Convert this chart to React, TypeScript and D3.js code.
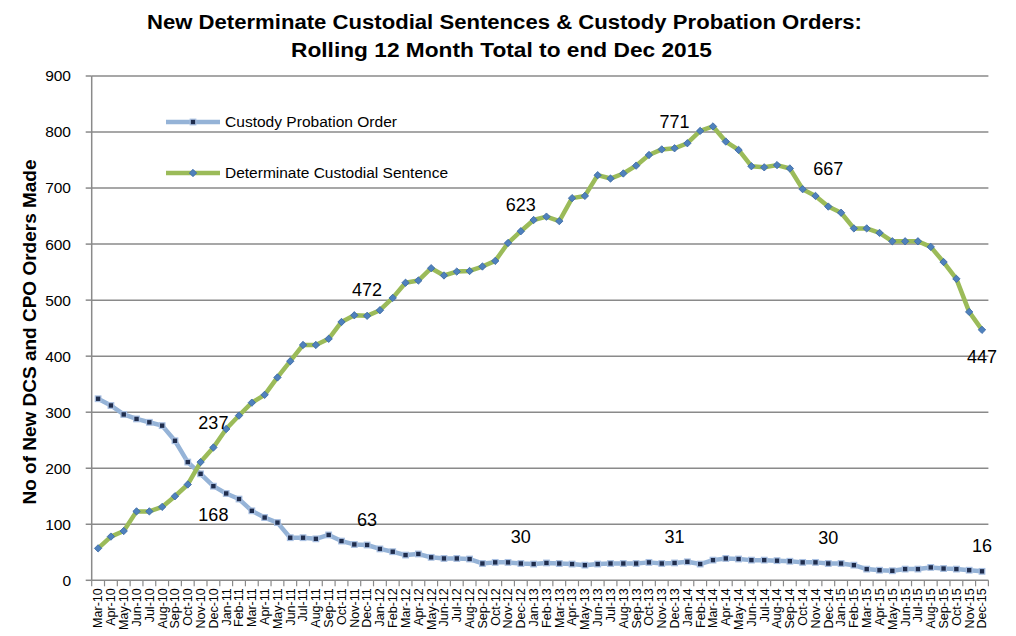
import React from "react";
import * as d3 from "d3";

const months: string[] = [
  "Mar-10","Apr-10","May-10","Jun-10","Jul-10","Aug-10","Sep-10","Oct-10","Nov-10","Dec-10",
  "Jan-11","Feb-11","Mar-11","Apr-11","May-11","Jun-11","Jul-11","Aug-11","Sep-11","Oct-11","Nov-11","Dec-11",
  "Jan-12","Feb-12","Mar-12","Apr-12","May-12","Jun-12","Jul-12","Aug-12","Sep-12","Oct-12","Nov-12","Dec-12",
  "Jan-13","Feb-13","Mar-13","Apr-13","May-13","Jun-13","Jul-13","Aug-13","Sep-13","Oct-13","Nov-13","Dec-13",
  "Jan-14","Feb-14","Mar-14","Apr-14","May-14","Jun-14","Jul-14","Aug-14","Sep-14","Oct-14","Nov-14","Dec-14",
  "Jan-15","Feb-15","Mar-15","Apr-15","May-15","Jun-15","Jul-15","Aug-15","Sep-15","Oct-15","Nov-15","Dec-15",
];

const cpoValues: number[] = [
  324,312,296,288,282,276,249,211,190,168,
  155,145,124,112,103,76,76,74,81,70,64,63,
  56,51,45,47,41,39,39,38,30,32,32,30,
  29,31,30,29,27,29,30,30,30,32,30,31,
  33,29,36,39,38,36,36,35,34,32,32,30,
  30,27,20,18,17,20,20,23,21,20,18,16,
];

const dcsValues: number[] = [
  57,78,88,123,123,131,150,171,211,237,
  270,294,317,331,362,391,420,420,431,461,473,472,
  482,504,531,535,557,544,551,552,560,570,602,623,
  643,649,641,682,686,723,717,726,740,759,769,771,
  780,802,810,783,768,739,737,741,735,698,686,667,
  656,628,628,620,605,605,605,595,568,538,479,447,
];

const yTicks: number[] = [0, 100, 200, 300, 400, 500, 600, 700, 800, 900];

const cpoLabelMonths: string[] = ["Dec-10", "Dec-11", "Dec-12", "Dec-13", "Dec-14", "Dec-15"];
const cpoLabelDy: number[] = [29, -25, -27, -26, -26, -26];
const dcsLabelMonths: string[] = ["Dec-10", "Dec-11", "Dec-12", "Dec-13", "Dec-14", "Dec-15"];
const dcsLabelDy: number[] = [-25, -26, -27, -27, -38, 27];

const FONT = "'Liberation Sans', Arial, sans-serif";

export default function App() {
  const W = 1016, H = 636;
  const left = 91.7, right = 988.4, top = 76, bottom = 580.3;
  const x = d3.scaleLinear().domain([0, months.length]).range([left, right]);
  const cx = (i: number) => x(i + 0.5);
  const y = d3.scaleLinear().domain([0, 900]).range([bottom, top]);

  const line = d3.line<number>().x((_, i) => cx(i)).y((d) => y(d));
  const cpoPath = line(cpoValues) || "";
  const dcsPath = line(dcsValues) || "";

  const grid = "#8a8a8a";
  const cpoColor = "#95b3d7";
  const dcsColor = "#9bbb59";

  const Diamond = ({ px, py }: { px: number; py: number }) => (
    <rect x={px - 2.6} y={py - 2.6} width={5.2} height={5.2} transform={`rotate(45,${px},${py})`} fill="#4f81bd" stroke="#3c6aa6" strokeWidth={0.8} />
  );
  const Square = ({ px, py }: { px: number; py: number }) => (
    <rect x={px - 2.8} y={py - 2.8} width={5.6} height={5.6} fill="#1f2d4d" stroke="#a9c0e2" strokeWidth={1.2} />
  );

  return (
    <svg width={W} height={H} style={{ position: "absolute", left: 0, top: 0, background: "#fff" }}>
      {/* title */}
      <text x={504.5} y={29} textAnchor="middle" fontFamily={FONT} fontWeight="bold" fontSize={19.5} textLength={715} lengthAdjust="spacingAndGlyphs" fill="#000">
        New Determinate Custodial Sentences &amp; Custody Probation Orders:
      </text>
      <text x={501.5} y={57} textAnchor="middle" fontFamily={FONT} fontWeight="bold" fontSize={19.5} textLength={421} lengthAdjust="spacingAndGlyphs" fill="#000">
        Rolling 12 Month Total to end Dec 2015
      </text>

      {/* gridlines */}
      {yTicks.map((t) => (
        <g key={t}>
          {t > 0 && <line x1={left} x2={right} y1={y(t)} y2={y(t)} stroke={grid} strokeWidth={1.5} />}
          <line x1={left - 6} x2={left} y1={y(t)} y2={y(t)} stroke={grid} strokeWidth={1.5} />
          <text x={71} y={y(t)} dy="0.35em" textAnchor="end" fontFamily={FONT} fontSize={15.5} fill="#000">
            {t}
          </text>
        </g>
      ))}
      {/* axes */}
      <line x1={left} x2={left} y1={top} y2={bottom} stroke={grid} strokeWidth={1.5} />
      <line x1={left} x2={right} y1={bottom} y2={bottom} stroke={grid} strokeWidth={1.5} />
      {d3.range(months.length + 1).map((i) => (
        <line key={i} x1={x(i)} x2={x(i)} y1={bottom} y2={bottom + 6} stroke={grid} strokeWidth={1.2} />
      ))}
      {months.map((m, i) => (
        <text
          key={m}
          transform={`translate(${cx(i)},${bottom + 8}) rotate(-90)`}
          dy="0.35em"
          textAnchor="end"
          fontFamily={FONT}
          fontSize={12.5}
          fill="#000"
        >
          {m}
        </text>
      ))}

      {/* y axis title */}
      <text
        transform={`translate(36,332) rotate(-90)`}
        textAnchor="middle"
        fontFamily={FONT}
        fontWeight="bold"
        fontSize={17.5}
        textLength={345}
        lengthAdjust="spacingAndGlyphs"
        fill="#000"
      >
        No of New DCS and CPO Orders Made
      </text>

      {/* lines */}
      <path d={cpoPath} fill="none" stroke={cpoColor} strokeWidth={4.5} strokeLinejoin="round" />
      {cpoValues.map((v, i) => (
        <Square key={i} px={cx(i)} py={y(v)} />
      ))}
      <path d={dcsPath} fill="none" stroke={dcsColor} strokeWidth={4.5} strokeLinejoin="round" />
      {dcsValues.map((v, i) => (
        <Diamond key={i} px={cx(i)} py={y(v)} />
      ))}

      {/* data labels */}
      {cpoLabelMonths.map((m, k) => {
        const i = months.indexOf(m);
        return (
          <text key={"c" + m} x={cx(i)} y={y(cpoValues[i]) + cpoLabelDy[k]} dy="0.35em" textAnchor="middle" fontFamily={FONT} fontSize={18} fill="#000">
            {cpoValues[i]}
          </text>
        );
      })}
      {dcsLabelMonths.map((m, k) => {
        const i = months.indexOf(m);
        return (
          <text key={"d" + m} x={cx(i)} y={y(dcsValues[i]) + dcsLabelDy[k]} dy="0.35em" textAnchor="middle" fontFamily={FONT} fontSize={18} fill="#000">
            {dcsValues[i]}
          </text>
        );
      })}

      {/* legend */}
      <g>
        <line x1={166} x2={220} y1={122} y2={122} stroke={cpoColor} strokeWidth={4.5} />
        <Square px={193} py={122} />
        <text x={225} y={122} dy="0.35em" fontFamily={FONT} fontSize={14} textLength={172} lengthAdjust="spacingAndGlyphs" fill="#000">Custody Probation Order</text>
        <line x1={166} x2={220} y1={173} y2={173} stroke={dcsColor} strokeWidth={4.5} />
        <Diamond px={193} py={173} />
        <text x={225} y={173} dy="0.35em" fontFamily={FONT} fontSize={14} textLength={223} lengthAdjust="spacingAndGlyphs" fill="#000">Determinate Custodial Sentence</text>
      </g>
    </svg>
  );
}
